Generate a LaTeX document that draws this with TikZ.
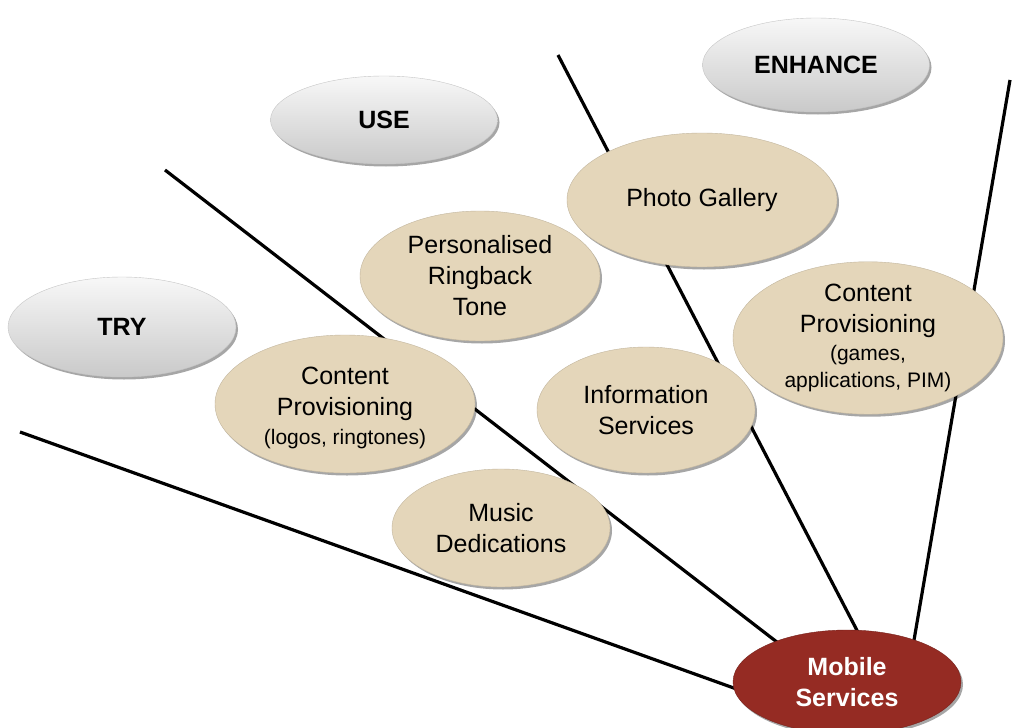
\documentclass[tikz,border=0pt]{standalone}
\usepackage{fontspec}
\setmainfont{Liberation Sans}
\usetikzlibrary{shapes.geometric,shadows}
\definecolor{tan}{RGB}{228,214,186}
\definecolor{msred}{RGB}{149,43,35}
\tikzset{
  base/.style={ellipse, inner sep=0pt, align=center, font=\fontsize{25}{31}\selectfont,
    drop shadow={shadow xshift=2pt, shadow yshift=-2.5pt, opacity=0.35, fill=black}},
  phase/.style={base, top color=gray!6, bottom color=gray!42, draw=gray!45, line width=0.4pt, font=\fontsize{25}{31}\selectfont\bfseries},
  svc/.style={base, fill=tan, draw=tan!85!black, line width=0.4pt},
  core/.style={base, fill=msred, draw=msred!80!black, text=white, font=\fontsize{25}{31}\selectfont\bfseries},
  spoke/.style={line width=3.2pt, black},
  txt/.style={align=center, inner sep=0pt, font=\fontsize{25}{31}\selectfont}
}
\begin{document}
\begin{tikzpicture}[x=1pt,y=-1pt]
\useasboundingbox (0,0) rectangle (1013,728);
\clip (0,0) rectangle (1013,728);
\fill[white] (0,0) rectangle (1013,728);
% spoke ends
\coordinate (a1) at (20,432);
\coordinate (a2) at (165,170);
\coordinate (a3) at (558,55);
\coordinate (a4) at (1010,80);
\coordinate (b1) at (770,701);
\coordinate (b2) at (795,656);
\coordinate (b3) at (862,640);
\coordinate (b4) at (913,646);
\draw[spoke] (a1) -- (b1);
\draw[spoke] (a2) -- (b2);
\draw[spoke] (a3) -- (b3);
\draw[spoke] (a4) -- (b4);
% phases
\node[phase, minimum width=228pt, minimum height=100pt] (try) at (122,327) {TRY};
\node[phase, minimum width=227pt, minimum height=88pt] (use) at (384,120) {USE};
\node[phase, minimum width=227pt, minimum height=94pt] (enh) at (816,65) {ENHANCE};
% services
\node[svc, minimum width=270pt, minimum height=134pt] (photo) at (702,200) {Photo Gallery};
\node[svc, minimum width=240pt, minimum height=130pt] (prbt) at (480,276) {Personalised\\Ringback\\Tone};
\node[svc, minimum width=270pt, minimum height=144pt] (cpg) at (868,338) {Content\\Provisioning\\[-3pt]{\fontsize{21}{26}\selectfont (games,}\\[-4pt]{\fontsize{21}{26}\selectfont applications, PIM)}};
\node[svc, minimum width=260pt, minimum height=138pt] (cpl) at (345,404) {};
\node[txt] (cpltxt) at ([yshift=-4pt]cpl.center) {Content\\Provisioning\\[-2pt]{\fontsize{21}{26}\selectfont (logos, ringtones)}};
\node[svc, minimum width=218pt, minimum height=126pt] (info) at (646,410) {Information\\Services};
\node[svc, minimum width=218pt, minimum height=118pt] (music) at (501,528) {Music\\Dedications};
% core
\node[core, minimum width=228pt, minimum height=104pt] (ms) at (847,682) {Mobile\\Services};
\end{tikzpicture}
\end{document}
